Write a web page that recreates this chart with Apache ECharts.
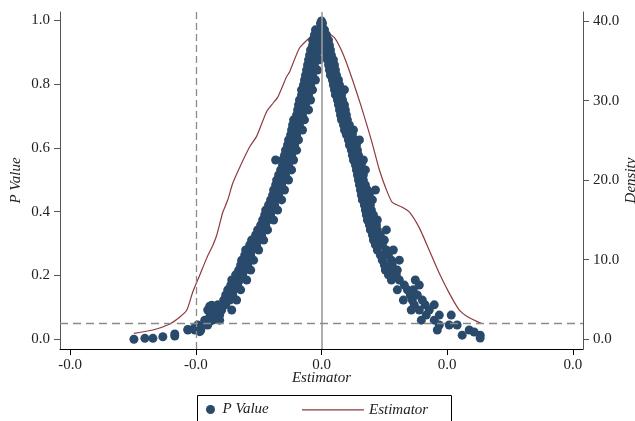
<!DOCTYPE html>
<html><head><meta charset="utf-8">
<script src="https://cdn.jsdelivr.net/npm/echarts@6/dist/echarts.min.js"></script>
<style>html,body{margin:0;padding:0;background:#fff}#c{width:635px;height:421px}</style>
</head><body><div id="c"></div>
<script>
// ---- data (estimator, p value) ----
var pointsLeft = [
[0,0.998],[-0.00008,0.99],[0.00008,0.99],
[-0.00048,0.970],[-0.00016,0.970],
[-0.00071,0.938],[-0.00032,0.938],[0.00008,0.938],
[-0.00087,0.907],[-0.00048,0.907],[-0.00008,0.907],
[-0.00103,0.876],[-0.00056,0.876],[-0.00016,0.876],
[-0.00119,0.844],[-0.00079,0.844],[-0.00032,0.844],
[-0.00135,0.813],[-0.00095,0.813],[-0.00048,0.813],
[-0.00159,0.782],[-0.00111,0.782],[-0.00071,0.782],
[-0.00175,0.750],[-0.00135,0.750],[-0.00087,0.750],
[-0.00190,0.719],[-0.00151,0.719],[-0.00103,0.719],
[-0.00222,0.688],[-0.00183,0.688],[-0.00135,0.688],
[-0.00238,0.656],[-0.00198,0.656],[-0.00151,0.656],
[-0.00262,0.625],[-0.00222,0.625],[-0.00183,0.625],
[-0.00286,0.593],[-0.00246,0.593],[-0.00198,0.593],
[-0.00310,0.562],[-0.00270,0.562],[-0.00222,0.562],[-0.00365,0.562],
[-0.00325,0.531],[-0.00286,0.531],[-0.00238,0.531],
[-0.00357,0.499],[-0.00310,0.499],[-0.00262,0.499],
[-0.00381,0.468],[-0.00341,0.468],[-0.00294,0.468],
[-0.00405,0.437],[-0.00365,0.437],[-0.00317,0.437],
[-0.00444,0.405],[-0.00397,0.405],[-0.00349,0.405],
[-0.00468,0.374],[-0.00429,0.374],[-0.00381,0.374],
[-0.00508,0.343],[-0.00468,0.343],[-0.00429,0.343],
[-0.00556,0.311],[-0.00508,0.311],[-0.00460,0.311],
[-0.00603,0.280],[-0.00556,0.280],[-0.00500,0.280],
[-0.00635,0.248],[-0.00587,0.248],[-0.00540,0.248],
[-0.00659,0.217],[-0.00611,0.217],[-0.00563,0.217],
[-0.00714,0.186],[-0.00651,0.186],[-0.00595,0.186],
[-0.00746,0.155],[-0.00698,0.155],[-0.00643,0.155],
[-0.00778,0.123],[-0.00730,0.123],[-0.00675,0.123],
[-0.00889,0.104],[-0.00841,0.104],
[-0.00849,0.092],[-0.00794,0.092],[-0.00714,0.092],[-0.00905,0.092],
[-0.00929,0.060],[-0.00865,0.060],[-0.00810,0.060],
[-0.01063,0.029],[-0.01008,0.029],[-0.00960,0.029]
];
var pointsLeftMid = [
[-0.00056,0.954],[-0.00008,0.954],[-0.00071,0.922],[-0.00024,0.922],
[-0.00095,0.891],[-0.00040,0.891],[-0.00111,0.860],[-0.00056,0.860],
[-0.00127,0.828],[-0.00071,0.828],[-0.00143,0.797],[-0.00087,0.797],
[-0.00159,0.766],[-0.00103,0.766],[-0.00183,0.735],[-0.00127,0.735],
[-0.00198,0.703],[-0.00151,0.703],[-0.00230,0.672],[-0.00175,0.672],
[-0.00246,0.641],[-0.00198,0.641],[-0.00270,0.609],[-0.00214,0.609],
[-0.00294,0.577],[-0.00238,0.577],[-0.00310,0.546],[-0.00262,0.546],
[-0.00341,0.515],[-0.00286,0.515],[-0.00365,0.484],[-0.00317,0.484],
[-0.00389,0.452],[-0.00341,0.452],[-0.00421,0.421],[-0.00373,0.421],
[-0.00452,0.390],[-0.00405,0.390],[-0.00484,0.358],[-0.00444,0.358],
[-0.00524,0.327],[-0.00476,0.327],[-0.00571,0.296],[-0.00516,0.296],
[-0.00611,0.264],[-0.00563,0.264],[-0.00643,0.233],[-0.00587,0.233],
[-0.00683,0.202],[-0.00627,0.202],[-0.00722,0.170],[-0.00667,0.170],
[-0.00762,0.139],[-0.00706,0.139],[-0.00825,0.108],[-0.00762,0.108],
[-0.00873,0.076],[-0.00810,0.076],[-0.00984,0.045],[-0.00905,0.045]
];
var pointsRight = [
[0.00024,0.970],[0.00016,0.938],[0.00056,0.938],
[0.00032,0.907],[0.00071,0.907],[0.00048,0.876],[0.00095,0.876],
[0.00063,0.844],[0.00111,0.844],[0.00087,0.813],[0.00135,0.813],
[0.00103,0.782],[0.00143,0.782],[0.00183,0.782],
[0.00127,0.750],[0.00167,0.750],[0.00143,0.719],[0.00190,0.719],
[0.00159,0.688],[0.00206,0.688],
[0.00183,0.656],[0.00222,0.656],[0.00254,0.656],
[0.00214,0.625],[0.00262,0.625],[0.00302,0.625],
[0.00238,0.593],[0.00286,0.593],
[0.00254,0.562],[0.00294,0.562],[0.00333,0.562],
[0.00278,0.531],[0.00317,0.531],[0.00349,0.531],
[0.00294,0.499],[0.00333,0.499],
[0.00310,0.468],[0.00365,0.468],[0.00429,0.468],
[0.00325,0.437],[0.00373,0.437],[0.00405,0.437],
[0.00349,0.405],[0.00397,0.405],
[0.00365,0.374],[0.00413,0.374],[0.00444,0.374],
[0.00389,0.343],[0.00444,0.343],[0.00516,0.343],
[0.00413,0.311],[0.00460,0.311],[0.00500,0.311],
[0.00444,0.280],[0.00516,0.280],[0.00571,0.280],
[0.00484,0.248],[0.00556,0.248],[0.00619,0.248],
[0.00508,0.217],[0.00563,0.217],[0.00603,0.217],
[0.00556,0.186],[0.00619,0.186],[0.00746,0.186],
[0.00659,0.170],[0.00778,0.170],
[0.00603,0.155],[0.00683,0.155],[0.00730,0.155],
[0.00762,0.139],[0.00706,0.139],
[0.00651,0.123],[0.00722,0.123],[0.00802,0.123],
[0.00738,0.108],[0.00825,0.108],[0.00897,0.108],
[0.00714,0.092],[0.00778,0.092],[0.00857,0.092],
[0.00833,0.076],[0.00937,0.076],[0.01032,0.076],
[0.00794,0.060],[0.00897,0.060],
[0.00937,0.045],[0.01016,0.045],[0.01079,0.045],
[0.00921,0.029],[0.01175,0.029],[0.01214,0.023],
[0.01119,0.013],[0.01262,0.013],[0.01262,0.004]
];
var pointsRightMid = [
[0.00008,0.954],[0.00040,0.954],[0.00024,0.922],[0.00063,0.922],
[0.00040,0.891],[0.00079,0.891],[0.00056,0.860],[0.00103,0.860],
[0.00071,0.828],[0.00119,0.828],[0.00095,0.797],[0.00143,0.797],
[0.00111,0.766],[0.00159,0.766],[0.00135,0.735],[0.00183,0.735],
[0.00151,0.703],[0.00198,0.703],[0.00175,0.672],[0.00222,0.672],
[0.00198,0.641],[0.00246,0.641],[0.00222,0.609],[0.00278,0.609],
[0.00246,0.577],[0.00294,0.577],[0.00270,0.546],[0.00317,0.546],
[0.00286,0.515],[0.00333,0.515],[0.00302,0.484],[0.00349,0.484],
[0.00317,0.452],[0.00381,0.452],[0.00341,0.421],[0.00389,0.421],
[0.00357,0.390],[0.00413,0.390],[0.00381,0.358],[0.00437,0.358],
[0.00405,0.327],[0.00468,0.327],[0.00429,0.296],[0.00484,0.296],
[0.00468,0.264],[0.00532,0.264],[0.00500,0.233],[0.00563,0.233],
[0.00532,0.202],[0.00595,0.202]
];
var pointsTail = [
[-0.01492,0.000],[-0.01405,0.003],[-0.01341,0.003],[-0.01262,0.008],
[-0.01167,0.017],[-0.01167,0.010],[-0.01063,0.031],[-0.01008,0.037],
[-0.00968,0.024],[-0.00929,0.050],[-0.00889,0.056],[-0.00889,0.071],
[-0.00849,0.076],[-0.00833,0.102],[-0.00873,0.107]
];
// ---- density curve (estimator, density) ----
var densityX = [-0.01492,-0.01341,-0.01206,-0.01127,-0.01071,-0.01024,-0.00968,-0.00913,-0.00865,-0.00833,-0.00786,-0.00746,-0.00706,-0.00651,-0.00571,-0.00516,-0.00437,-0.00389,-0.00349,-0.00310,-0.00278,-0.00254,-0.00175,-0.00095,-0.00048,0,0.00048,0.00103,0.00167,0.00238,0.00317,0.00397,0.00460,0.00516,0.00563,0.00643,0.00698,0.00778,0.00857,0.00937,0.01016,0.01095,0.01175,0.01270];
var densityY = [0.75,1.17,1.92,2.80,3.68,5.94,8.08,10.2,11.8,13.1,15.9,17.5,19.6,21.6,24.2,25.5,28.6,29.6,30.4,31.8,33.0,33.6,36.6,37.9,38.5,38.7,38.5,37.9,36.0,33.0,29.2,25.0,21.3,18.8,17.2,16.6,16.0,14.0,11.2,8.3,5.8,3.7,2.7,2.0];
// ---- ticks / reference lines ----
var xTicks = [-0.02,-0.01,0,0.01,0.02];
var pTicks = [0,0.2,0.4,0.6,0.8,1.0];
var dTicks = [0,10,20,30,40];
var refX = [-0.00841, 0];
var refP = 0.05;

var FONT = '"Liberation Serif", "DejaVu Serif", serif';
var BLUE = '#2a4a6c', RED = '#8e3a40';
var allPoints = pointsLeft.concat(pointsLeftMid, pointsRight, pointsRightMid, pointsTail);
var densityData = densityX.map(function(x,i){return [x, densityY[i]];});
var nameStyle = {fontFamily:FONT,fontSize:15,fontStyle:'italic',color:'#222'};

var chart = echarts.init(document.getElementById('c'), null, {renderer:'canvas'});
chart.setOption({
  animation:false,
  backgroundColor:'#fff',
  grid:{left:60,right:52,top:12,bottom:72,containLabel:false,outerBoundsMode:'none'},
  xAxis:{type:'value',min:-0.0208,max:0.0208,
    axisLine:{onZero:false,lineStyle:{color:'#000',width:1}},
    axisTick:{length:6,customValues:xTicks,lineStyle:{color:'#000'}},
    axisLabel:{customValues:xTicks,margin:9,fontFamily:FONT,fontSize:15,color:'#222',
      formatter:function(v){return v < -1e-9 ? '-0.0' : '0.0';}},
    splitLine:{show:false},
    name:'Estimator',nameLocation:'middle',nameGap:22,nameMoveOverlap:false,
    nameTextStyle:nameStyle},
  yAxis:[
   {type:'value',min:-0.0304,max:1.026,position:'left',
    axisLine:{show:true,onZero:false,lineStyle:{color:'#555',width:1}},
    axisTick:{show:true,length:6,customValues:pTicks,lineStyle:{color:'#555'}},
    axisLabel:{customValues:pTicks,margin:10,fontFamily:FONT,fontSize:15,color:'#222',
      formatter:function(v){return v.toFixed(1);}},
    splitLine:{show:false},
    name:'P Value',nameLocation:'middle',nameGap:36,nameRotate:90,nameMoveOverlap:false,
    nameTextStyle:nameStyle},
   {type:'value',min:-1.22,max:41.13,position:'right',
    axisLine:{show:true,onZero:false,lineStyle:{color:'#555',width:1}},
    axisTick:{show:true,length:6,customValues:dTicks,lineStyle:{color:'#555'}},
    axisLabel:{customValues:dTicks,margin:10,fontFamily:FONT,fontSize:15,color:'#222',
      formatter:function(v){return v.toFixed(1);}},
    splitLine:{show:false},
    name:'Density',nameLocation:'middle',nameGap:41,nameRotate:90,nameMoveOverlap:false,
    nameTextStyle:nameStyle}
  ],
  legend:[
   {data:['P Value'],left:206,top:402,padding:0,itemWidth:14,itemHeight:9,selectedMode:false,
    textStyle:nameStyle},
   {data:[{name:'Estimator',icon:'rect'}],left:302,top:402.4,padding:0,itemWidth:62,itemHeight:1.2,selectedMode:false,
    textStyle:nameStyle}
  ],
  graphic:[{type:'rect',left:195,top:393,shape:{width:254,height:40},
    style:{fill:'none',stroke:'#000',lineWidth:1},silent:true,z:100}],
  series:[
   {type:'scatter',name:'refs',data:[],z:1,silent:true,
    markLine:{silent:true,symbol:'none',label:{show:false},animation:false,
      data:[
       {xAxis:refX[0],lineStyle:{color:'#8a8a8a',type:[7,4],width:1.3}},
       {xAxis:refX[1],lineStyle:{color:'#9a9a9a',type:'solid',width:1.6}},
       {yAxis:refP,lineStyle:{color:'#8a8a8a',type:[8,5],width:1.3}}
      ]}},
   {type:'line',name:'Estimator',yAxisIndex:1,data:densityData,symbol:'none',showSymbol:false,smooth:0.2,
    lineStyle:{color:RED,width:1.2},itemStyle:{color:RED},z:3},
   {type:'scatter',name:'P Value',data:allPoints,symbolSize:9,
    itemStyle:{color:BLUE,opacity:1},z:4}
  ]
});
</script></body></html>
